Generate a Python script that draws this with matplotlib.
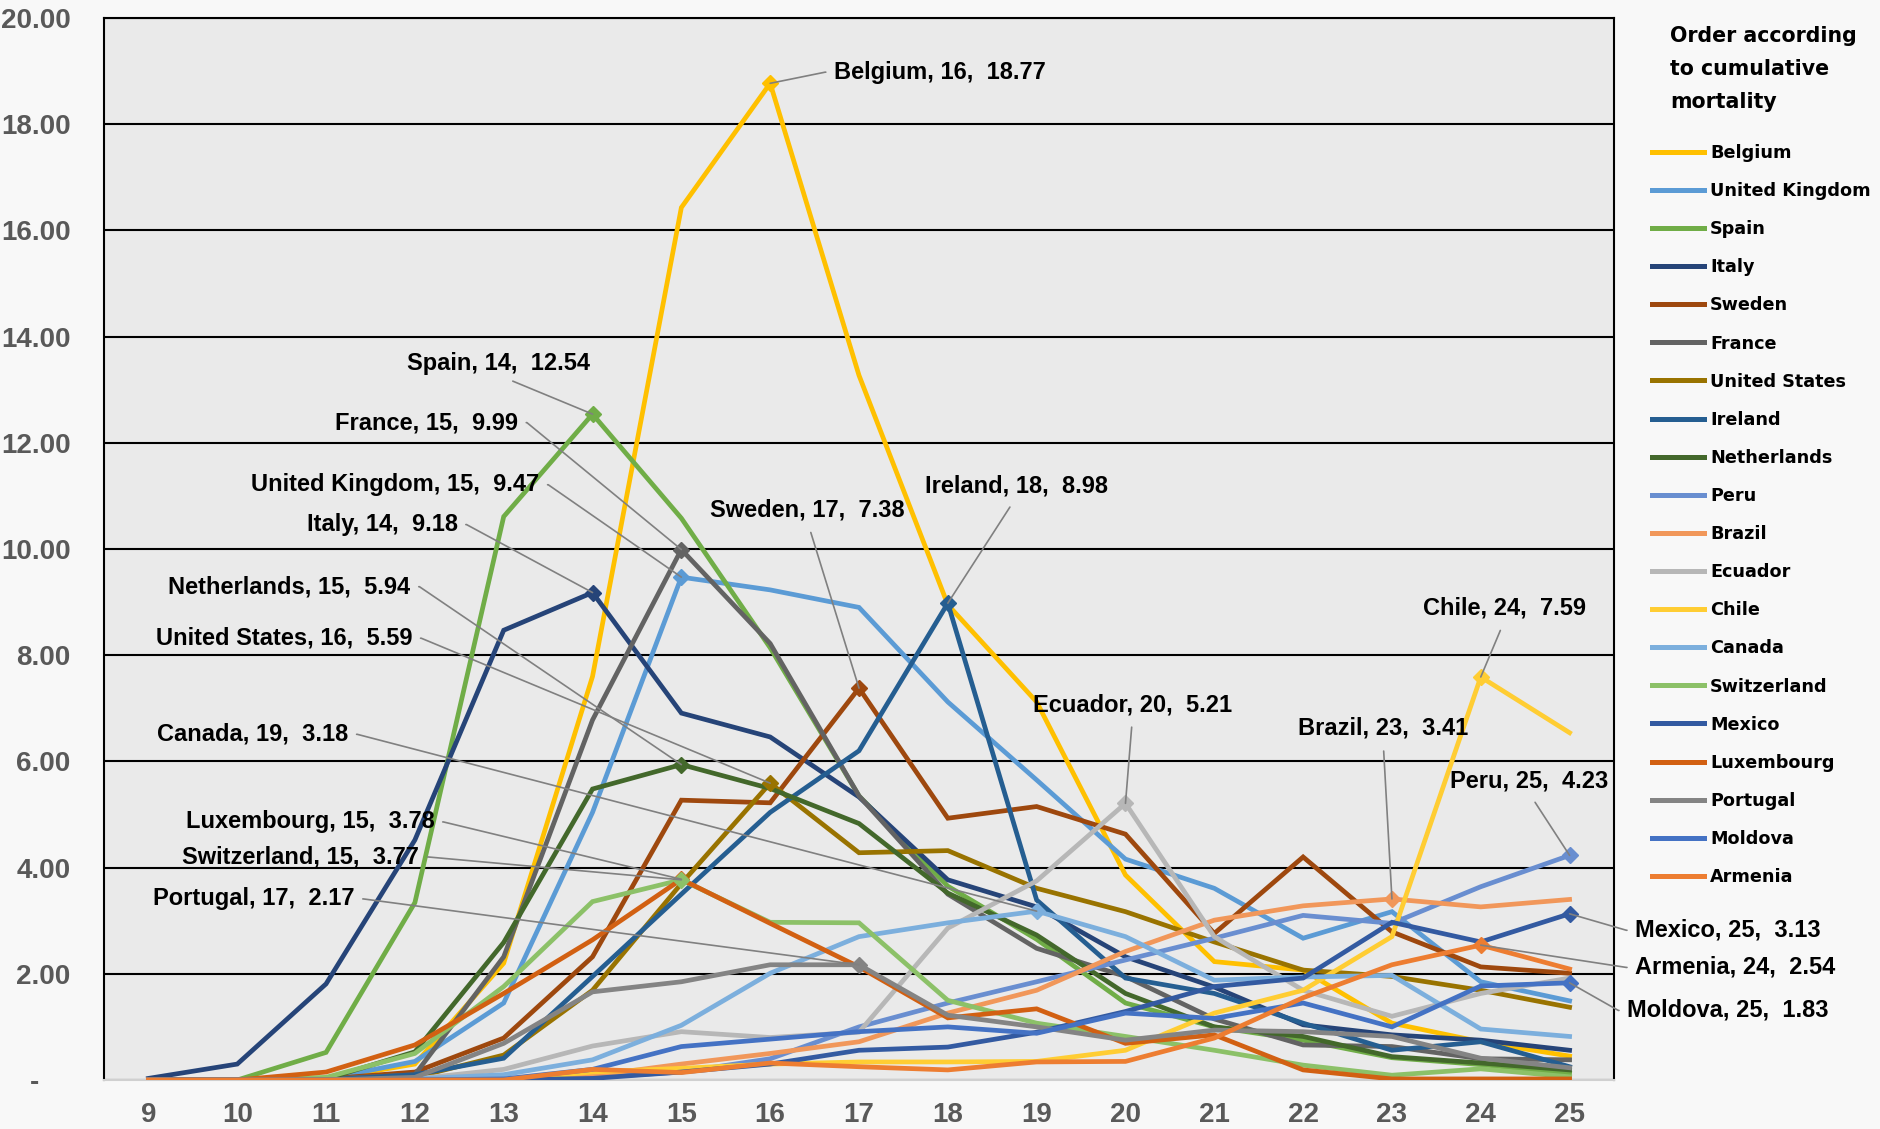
import matplotlib
matplotlib.use("Agg")
import matplotlib.pyplot as plt
from matplotlib import font_manager as fm

weeks = list(range(9, 26))

countries = ["Belgium", "United Kingdom", "Spain", "Italy", "Sweden", "France",
             "United States", "Ireland", "Netherlands", "Peru", "Brazil", "Ecuador",
             "Chile", "Canada", "Switzerland", "Mexico", "Luxembourg", "Portugal",
             "Moldova", "Armenia"]

belgium = [0, 0, 0.02, 0.3, 2.2, 7.6, 16.43, 18.77, 13.27, 8.95, 7.12, 3.86, 2.23, 2.07, 1.07, 0.72, 0.45]
united_kingdom = [0, 0, 0.02, 0.35, 1.45, 5.04, 9.47, 9.23, 8.9, 7.12, 5.65, 4.16, 3.61, 2.67, 3.17, 1.85, 1.49]
spain = [0, 0, 0.52, 3.34, 10.61, 12.54, 10.58, 8.14, 5.35, 3.65, 2.65, 1.45, 1.0, 0.75, 0.42, 0.29, 0.13]
italy = [0.03, 0.3, 1.81, 4.52, 8.47, 9.18, 6.91, 6.46, 5.33, 3.77, 3.26, 2.32, 1.75, 1.04, 0.85, 0.75, 0.56]
sweden = [0, 0, 0.02, 0.15, 0.79, 2.32, 5.27, 5.22, 7.38, 4.93, 5.15, 4.63, 2.76, 4.2, 2.79, 2.13, 2.01]
france = [0, 0, 0.02, 0.1, 2.32, 6.78, 9.99, 8.22, 5.35, 3.5, 2.48, 1.95, 1.15, 0.66, 0.63, 0.4, 0.38]
united_states = [0, 0, 0, 0.05, 0.47, 1.69, 3.7, 5.59, 4.28, 4.32, 3.61, 3.17, 2.6, 2.07, 1.95, 1.69, 1.37]
ireland = [0, 0, 0, 0.1, 0.41, 1.95, 3.5, 5.04, 6.2, 8.98, 3.39, 1.92, 1.63, 1.07, 0.56, 0.72, 0.25]
netherlands = [0, 0, 0.02, 0.53, 2.59, 5.48, 5.94, 5.49, 4.83, 3.52, 2.73, 1.63, 1.0, 0.82, 0.44, 0.32, 0.19]
peru = [0, 0, 0, 0, 0, 0.05, 0.15, 0.4, 1.0, 1.45, 1.85, 2.26, 2.67, 3.1, 2.95, 3.64, 4.23]
brazil = [0, 0, 0, 0, 0, 0.08, 0.3, 0.5, 0.72, 1.26, 1.69, 2.42, 3.01, 3.28, 3.41, 3.26, 3.40]
ecuador = [0, 0, 0, 0.02, 0.2, 0.64, 0.91, 0.8, 0.9, 2.86, 3.75, 5.21, 2.7, 1.69, 1.2, 1.63, 1.92]
chile = [0, 0, 0, 0, 0, 0.15, 0.22, 0.3, 0.34, 0.34, 0.35, 0.56, 1.26, 1.69, 2.7, 7.59, 6.54]
canada = [0, 0, 0, 0.02, 0.1, 0.38, 1.03, 2.01, 2.7, 2.96, 3.18, 2.7, 1.88, 1.94, 1.97, 0.96, 0.82]
switzerland = [0, 0, 0.05, 0.5, 1.76, 3.36, 3.77, 2.97, 2.96, 1.5, 1.07, 0.82, 0.56, 0.28, 0.09, 0.21, 0.06]
mexico = [0, 0, 0, 0, 0, 0.03, 0.15, 0.3, 0.56, 0.62, 0.9, 1.29, 1.76, 1.92, 2.97, 2.6, 3.13]
luxembourg = [0, 0, 0.15, 0.66, 1.63, 2.64, 3.78, 2.95, 2.13, 1.17, 1.34, 0.69, 0.85, 0.19, 0.02, 0.02, 0.02]
portugal = [0, 0, 0, 0.05, 0.69, 1.66, 1.85, 2.17, 2.17, 1.22, 1.0, 0.75, 0.94, 0.91, 0.82, 0.41, 0.23]
moldova = [0, 0, 0, 0, 0.02, 0.2, 0.63, 0.77, 0.91, 1.0, 0.88, 1.26, 1.16, 1.45, 1.0, 1.77, 1.83]
armenia = [0, 0, 0, 0, 0, 0.2, 0.14, 0.32, 0.25, 0.19, 0.34, 0.35, 0.79, 1.55, 2.17, 2.54, 2.09]

series = [belgium, united_kingdom, spain, italy, sweden, france, united_states,
          ireland, netherlands, peru, brazil, ecuador, chile, canada, switzerland,
          mexico, luxembourg, portugal, moldova, armenia]

colors = ["#FFC000", "#5B9BD5", "#70AD47", "#264478", "#9E480E", "#636363",
          "#997300", "#255E91", "#43682B", "#698ED0", "#F1975A", "#B7B7B7",
          "#FFCD33", "#7CAFDD", "#8CC168", "#335AA1", "#D26012", "#848484",
          "#4472C4", "#ED7D31"]

# annotated points: country, week ; label position (data coords) and style
annotations = [
    ("Belgium", 16, 16.72, 18.98, "left"),
    ("Spain", 14, 12.94, 13.49, "center"),
    ("France", 15, 13.16, 12.38, "right"),
    ("United Kingdom", 15, 13.40, 11.21, "right"),
    ("Italy", 14, 12.48, 10.46, "right"),
    ("Netherlands", 15, 11.95, 9.29, "right"),
    ("United States", 16, 11.97, 8.32, "right"),
    ("Canada", 19, 11.25, 6.51, "right"),
    ("Luxembourg", 15, 12.22, 4.86, "right"),
    ("Switzerland", 15, 12.05, 4.20, "right"),
    ("Portugal", 17, 11.32, 3.41, "right"),
    ("Sweden", 17, 16.42, 10.73, "center"),
    ("Ireland", 18, 18.77, 11.19, "center"),
    ("Ecuador", 20, 20.08, 7.07, "center"),
    ("Brazil", 23, 22.90, 6.62, "center"),
    ("Chile", 24, 24.27, 8.88, "center"),
    ("Peru", 25, 24.54, 5.63, "center"),
    ("Mexico", 25, 25.74, 2.82, "left"),
    ("Armenia", 24, 25.74, 2.12, "left"),
    ("Moldova", 25, 25.65, 1.31, "left"),
]

yticks = [0, 2, 4, 6, 8, 10, 12, 14, 16, 18, 20]

NARROW = ["Liberation Sans Narrow", "Liberation Sans", "DejaVu Sans"]
WIDE = ["DejaVu Sans"]

fig = plt.figure(figsize=(18.81, 11.29), dpi=100, facecolor="#F8F8F8")
ax = fig.add_axes([104 / 1881, 49 / 1129, (1614 - 104) / 1881, (1080 - 18) / 1129])
ax.set_facecolor("#EAEAEA")

for name, vals, col in zip(countries, series, colors):
    ax.plot(weeks, vals, color=col, lw=3.4, solid_joinstyle="miter", label=name, zorder=3)

for name, wk, tx, ty, style in annotations:
    i = countries.index(name)
    val = series[i][weeks.index(wk)]
    ax.plot([wk], [val], marker="D", ms=8, color=colors[i], mec=colors[i], zorder=4)
    label = f"{name}, {wk},  {val:.2f}"
    if style == "right":
        ap = dict(arrowstyle="-", color="#808080", lw=1.2, shrinkA=4, shrinkB=0,
                  relpos=(1, 0.5), connectionstyle="arc,angleA=0,armA=9,angleB=0,armB=0,rad=0")
        ha = "right"
    elif style == "left":
        ap = dict(arrowstyle="-", color="#808080", lw=1.2, shrinkA=4, shrinkB=0,
                  relpos=(0, 0.5), connectionstyle="arc,angleA=180,armA=9,angleB=0,armB=0,rad=0")
        ha = "left"
    else:
        ap = dict(arrowstyle="-", color="#808080", lw=1.2, shrinkA=6, shrinkB=0,
                  relpos=(0.5, 0))
        ha = "center"
    ax.annotate(label, xy=(wk, val), xytext=(tx, ty), textcoords="data",
                ha=ha, va="center", fontsize=17, fontweight="bold",
                family=NARROW, color="black", arrowprops=ap, zorder=6,
                annotation_clip=False)

ax.set_xlim(8.5, 25.5)
ax.set_ylim(0, 20)
ax.set_xticks(weeks)
ax.set_xticklabels([str(w) for w in weeks])
ax.set_yticks(yticks)
ax.set_yticklabels(["-    "] + [f"{v:.2f}" for v in yticks[1:]])
ax.tick_params(axis="both", length=0, labelcolor="#595959", labelsize=20)
ax.tick_params(axis="y", pad=24)
ax.tick_params(axis="x", pad=16)
for lab in ax.get_xticklabels() + ax.get_yticklabels():
    lab.set_fontweight("bold")
    lab.set_family(NARROW)

ax.yaxis.grid(True, color="black", lw=1.5, zorder=1)
ax.set_axisbelow(True)
for s in ["left", "right", "top"]:
    ax.spines[s].set_color("black")
    ax.spines[s].set_linewidth(1.5)
ax.spines["bottom"].set_color("#D0D0D0")
ax.spines["bottom"].set_linewidth(1.5)

fig.text(1670 / 1881, 1 - 26 / 1129, "Order according\nto cumulative\nmortality",
         ha="left", va="top", fontsize=14.8, fontweight="bold", family=WIDE,
         linespacing=1.8, color="black")

leg = ax.legend(loc="upper left", bbox_to_anchor=(1652 / 1881, 1 - 144 / 1129),
                bbox_transform=fig.transFigure, frameon=False, borderpad=0,
                borderaxespad=0, handlelength=2.95, handletextpad=0.35,
                labelspacing=1.14, prop=fm.FontProperties(family=WIDE, weight="bold", size=12.7))
for h in leg.get_lines():
    h.set_linewidth(3.6)

fig.savefig("out.png", dpi=100, facecolor=fig.get_facecolor())
